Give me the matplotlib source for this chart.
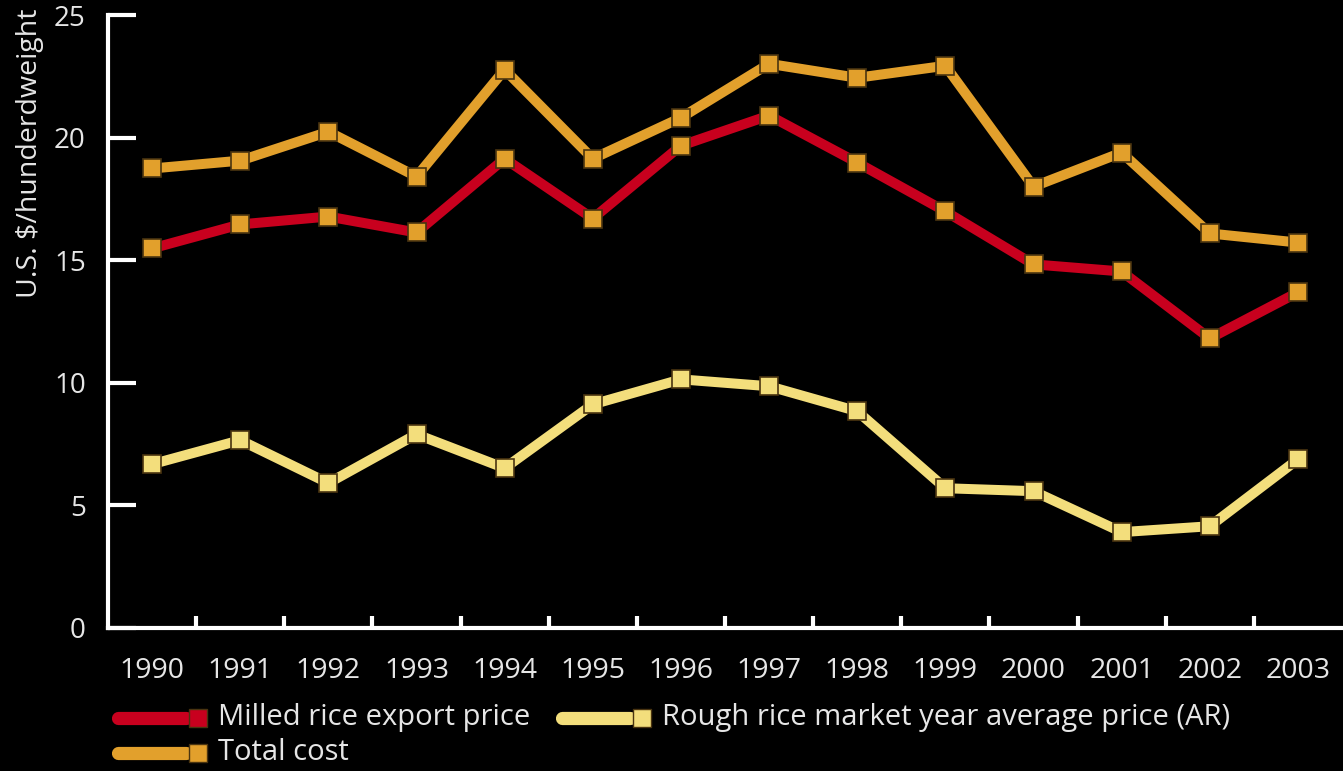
import matplotlib
matplotlib.use("Agg")
import matplotlib.pyplot as plt
from matplotlib.lines import Line2D
import numpy as np

years = [1990, 1991, 1992, 1993, 1994, 1995, 1996, 1997, 1998, 1999, 2000, 2001, 2002, 2003]
total_cost = [18.74, 19.06, 20.24, 18.41, 22.77, 19.14, 20.81, 23.01, 22.44, 22.93, 18.0, 19.39, 16.09, 15.72]
milled_price = [15.48, 16.46, 16.78, 16.13, 19.14, 16.70, 19.67, 20.90, 18.98, 16.99, 14.83, 14.54, 11.81, 13.69]
rough_price = [6.68, 7.66, 5.91, 7.90, 6.52, 9.12, 10.14, 9.86, 8.84, 5.70, 5.58, 3.91, 4.15, 6.88]
yticks = [0, 5, 10, 15, 20, 25]
labels = ["Milled rice export price", "Rough rice market year average price (AR)", "Total cost"]

RED = "#C8001E"
ORANGE = "#E2A02C"
YELLOW = "#F3DE7C"
EDGE = "#4A3410"
TXT = "#E6E6E6"

plt.rcParams['font.family'] = ['Open Sans', 'DejaVu Sans']

fig = plt.figure(figsize=(13.43, 7.71), dpi=100, facecolor="black")
ax = fig.add_axes([108/1343, 1 - 628/771, (1342-108)/1343, (628-15)/771])
ax.set_facecolor("black")

lw = 7.2
ms = 13
ax.plot(years, total_cost, color=ORANGE, lw=lw, marker="s", ms=ms, mfc=ORANGE, mec=EDGE, mew=1.2, zorder=3)
ax.plot(years, milled_price, color=RED, lw=lw, marker="s", ms=ms, mfc=ORANGE, mec=EDGE, mew=1.2, zorder=3)
ax.plot(years, rough_price, color=YELLOW, lw=lw, marker="s", ms=ms, mfc=YELLOW, mec=EDGE, mew=1.2, zorder=3)

ax.set_xlim(years[0] - 0.5, years[-1] + 0.5)
ax.set_ylim(0, 25)

for s in ["top", "right"]:
    ax.spines[s].set_visible(False)
for s in ["left", "bottom"]:
    ax.spines[s].set_color("white")
    ax.spines[s].set_linewidth(3)

ax.set_yticks(yticks)
ax.set_yticklabels([str(v) for v in yticks])
ax.tick_params(axis="y", direction="in", length=20, width=3, color="white",
               labelcolor=TXT, labelsize=20, pad=16)

ax.set_xticks(years)
ax.set_xticklabels([str(y) for y in years])
ax.set_xticks([y + 0.5 for y in years[:-1]], minor=True)
ax.tick_params(axis="x", which="major", length=0, labelcolor=TXT, labelsize=20.5, pad=21)
ax.tick_params(axis="x", which="minor", direction="in", length=9, width=3, color="white")

fig.text(30/1343, 1 - 8/771, "U.S. $/hunderdweight", rotation=90, ha="center", va="top",
         color=TXT, fontsize=20.5)

# manual legend (line with square marker at its right end)
def legend_entry(x0, yc, color, mcolor, text):
    yf = 1 - yc/771
    fig.add_artist(Line2D([x0/1343, (x0+68)/1343], [yf, yf], color=color, lw=9.5,
                          solid_capstyle="round", transform=fig.transFigure))
    fig.add_artist(Line2D([(x0+80)/1343], [yf], marker="s", ms=13.5, mfc=mcolor, mec=EDGE,
                          mew=1, ls="none", transform=fig.transFigure))
    fig.text((x0+100)/1343, yf, text, color=TXT, fontsize=21, va="center", ha="left")

legend_entry(118, 718, RED, RED, labels[0])
legend_entry(562, 718, YELLOW, YELLOW, labels[1])
legend_entry(118, 753, ORANGE, ORANGE, labels[2])

fig.savefig("out.png", dpi=100, facecolor="black")
